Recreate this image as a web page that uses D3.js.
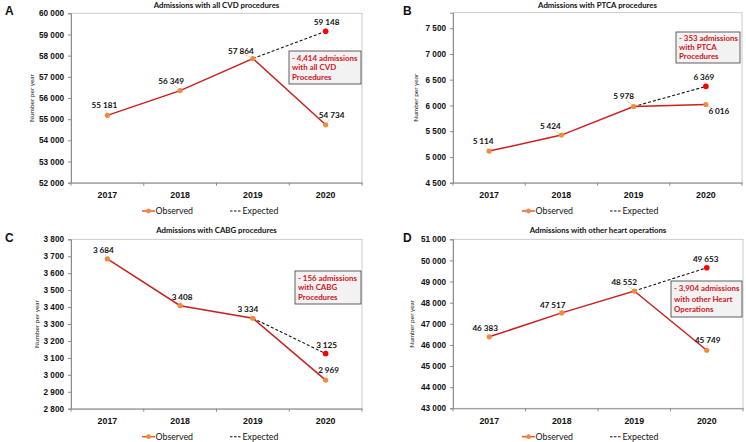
<!DOCTYPE html>
<html>
<head>
<meta charset="utf-8">
<script src="https://cdn.jsdelivr.net/npm/d3@7"></script>
<style>
  html, body { margin: 0; padding: 0; background: #fff; }
  svg { display: block; font-family: Lato, "Open Sans", sans-serif; }
  .tick-label { font-size: 8.2px; font-weight: 700; fill: #111; }
  .cat-label { font-size: 8.8px; font-weight: 700; fill: #111; }
  .value-label { font-size: 8.2px; font-weight: 700; fill: #111; }
  .title { font-size: 7.8px; font-weight: 700; fill: #111; }
  .y-title { font-size: 6.5px; fill: #111; }
  .legend-text { font-size: 8.8px; fill: #111; }
  .note-text { font-size: 7.9px; font-weight: 700; fill: #d0161b; }
  .letter { font-family: "Liberation Sans", Arial, sans-serif; font-size: 12px; font-weight: 700; fill: #111; }
</style>
</head>
<body>
<svg id="chart" width="746" height="442"></svg>
<script>
// values
const years = ['2017', '2018', '2019', '2020'];

const observedCVD = [55181, 56349, 57864, 54734];
const expectedCVD = [57864, 59148];          // 2019 -> 2020
const ticksCVD = [52000, 53000, 54000, 55000, 56000, 57000, 58000, 59000, 60000];
const noteCVD = ['- 4,414 admissions', 'with all CVD', 'Procedures'];

const observedPTCA = [5114, 5424, 5978, 6016];
const expectedPTCA = [5978, 6369];
const ticksPTCA = [4500, 5000, 5500, 6000, 6500, 7000, 7500];
const notePTCA = ['- 353 admissions', 'with PTCA', 'Procedures'];

const observedCABG = [3684, 3408, 3334, 2969];
const expectedCABG = [3334, 3125];
const ticksCABG = [2800, 2900, 3000, 3100, 3200, 3300, 3400, 3500, 3600, 3700, 3800];
const noteCABG = ['- 156 admissions', 'with CABG', 'Procedures'];

const observedOther = [46383, 47517, 48552, 45749];
const expectedOther = [48552, 49653];
const ticksOther = [43000, 44000, 45000, 46000, 47000, 48000, 49000, 50000, 51000];
const noteOther = ['- 3,904 admissions', 'with other Heart', 'Operations'];

const titles = [
    'Admissions with all CVD procedures',
    'Admissions with PTCA procedures',
    'Admissions with CABG procedures',
    'Admissions with other heart operations'
];
const letters = ['A', 'B', 'C', 'D'];
const legendLabels = ['Observed', 'Expected'];

/*
    Layout of the four panels (pixel boxes, label nudges)
*/
const panels = [
    {
        letter: letters[0], title: titles[0], observed: observedCVD, expected: expectedCVD,
        ticks: ticksCVD, domain: [52000, 60000], note: noteCVD,
        box: {left: 71, right: 362, top: 13.3, bottom: 182.7},
        letterPos: [5, 11], titleY: 5, yTitleX: 32, catY: 194, legendY: 211,
        legendX: [142, 230],
        obsOffsets: [[-3, -10], [-9, -9], [-12, -7], [6, -10]], expOffset: [1, -9],
        noteBox: {x: 289, y: 51, w: 72, h: 33}
    },
    {
        letter: letters[1], title: titles[1], observed: observedPTCA, expected: expectedPTCA,
        ticks: ticksPTCA, domain: [4500, 7800], note: notePTCA,
        box: {left: 453, right: 742, top: 12.7, bottom: 182.7},
        letterPos: [403, 11], titleY: 5, yTitleX: 416, catY: 194, legendY: 211,
        legendX: [522, 610],
        obsOffsets: [[-6, -10], [-11, -8.5], [-10, -10], [13, 7]], expOffset: [-2, -9],
        noteBox: {x: 676, y: 32, w: 64, h: 31}
    },
    {
        letter: letters[2], title: titles[2], observed: observedCABG, expected: expectedCABG,
        ticks: ticksCABG, domain: [2800, 3800], note: noteCABG,
        box: {left: 71, right: 362, top: 239.3, bottom: 408.7},
        letterPos: [5, 238], titleY: 230.3, yTitleX: 37, catY: 421, legendY: 436.7,
        legendX: [142, 230],
        obsOffsets: [[-4, -8.5], [2, -9], [-5, -9], [3, -10]], expOffset: [1, -9],
        noteBox: {x: 295, y: 271, w: 66, h: 33}
    },
    {
        letter: letters[3], title: titles[3], observed: observedOther, expected: expectedOther,
        ticks: ticksOther, domain: [43000, 51000], note: noteOther,
        box: {left: 453, right: 743, top: 239.3, bottom: 408.3},
        letterPos: [403, 238], titleY: 230, yTitleX: 412, catY: 420, legendY: 436.7,
        legendX: [522, 610],
        obsOffsets: [[-4, -9], [-9, -8], [-10, -9], [1, -10]], expOffset: [-1, -9],
        noteBox: {x: 671, y: 281, w: 71, h: 36}
    }
];

const COLORS = {
    line: '#cc1f1f',
    marker: '#f28a3c',
    expected: '#ff0000',
    axis: '#8c8c8c',
    frame: '#bfbfbf',
    leader: '#bdbdbd'
};

const fmt = d3.formatLocale({decimal: '.', thousands: ' ', grouping: [3], currency: ['', '']}).format(',');

const svg = d3.select('#chart');

panels.forEach(drawPanel);

function drawPanel(p) {
    const g = svg.append('g').attr('class', 'panel');
    const b = p.box;

    const x = d3.scaleBand().domain(years).range([b.left, b.right]).padding(0);
    const y = d3.scaleLinear().domain(p.domain).range([b.bottom, b.top]);
    const cx = d => x(d) + x.bandwidth() / 2;

    // plot frame
    g.append('rect')
        .attr('x', b.left).attr('y', b.top)
        .attr('width', b.right - b.left).attr('height', b.bottom - b.top)
        .attr('fill', 'none').attr('stroke', COLORS.frame).attr('stroke-width', 0.8);

    // y axis
    const yAxis = d3.axisLeft(y).tickValues(p.ticks).tickSize(3).tickPadding(4).tickFormat(fmt);
    const yG = g.append('g').attr('transform', `translate(${b.left},0)`).call(yAxis);
    yG.select('.domain').attr('stroke', COLORS.axis);
    yG.selectAll('.tick line').attr('stroke', COLORS.axis);
    yG.selectAll('.tick text').attr('class', 'tick-label').attr('font-size', null).attr('font-family', null);

    // x axis: ticks sit between categories
    const xAxis = d3.axisBottom(x).tickSize(0).tickPadding(9);
    const xG = g.append('g').attr('transform', `translate(0,${b.bottom})`).call(xAxis);
    xG.select('.domain').attr('stroke', COLORS.axis);
    xG.selectAll('.tick text').attr('class', 'cat-label').attr('font-size', null).attr('font-family', null);
    xG.selectAll('.sep')
        .data(years.concat(['end']))
        .enter()
        .append('line')
        .attr('class', 'sep')
        .attr('x1', (d, i) => i < years.length ? x(d) : b.right)
        .attr('x2', (d, i) => i < years.length ? x(d) : b.right)
        .attr('y1', 0).attr('y2', 3)
        .attr('stroke', COLORS.axis);

    // titles
    g.append('text').attr('class', 'title')
        .attr('x', (b.left + b.right) / 2).attr('y', p.titleY).attr('dy', '0.35em')
        .attr('text-anchor', 'middle').text(p.title);
    g.append('text').attr('class', 'letter')
        .attr('x', p.letterPos[0]).attr('y', p.letterPos[1]).attr('dy', '0.35em')
        .text(p.letter);
    g.append('text').attr('class', 'y-title')
        .attr('transform', `translate(${p.yTitleX},${(b.top + b.bottom) / 2}) rotate(-90)`)
        .attr('text-anchor', 'middle').attr('dy', '0.35em')
        .text('Number per year');

    // expected dashed line
    const expYears = years.slice(2);
    const line = d3.line().x(d => cx(d[0])).y(d => y(d[1]));
    g.append('path')
        .attr('d', line(expYears.map((yr, i) => [yr, p.expected[i]])))
        .attr('fill', 'none').attr('stroke', '#111')
        .attr('stroke-width', 1.1).attr('stroke-dasharray', '3,2');

    // observed line
    g.append('path')
        .attr('d', line(years.map((yr, i) => [yr, p.observed[i]])))
        .attr('fill', 'none').attr('stroke', COLORS.line).attr('stroke-width', 1.5);

    // leader lines + labels
    const labels = years.map((yr, i) => ({
        px: cx(yr), py: y(p.observed[i]), v: p.observed[i], off: p.obsOffsets[i]
    }));
    labels.push({px: cx(years[3]), py: y(p.expected[1]), v: p.expected[1], off: p.expOffset});

    labels.forEach(d => {
        const lx = d.px + d.off[0], ly = d.py + d.off[1];
        const dx = d.px - lx, dy = d.py - ly;
        const dist = Math.hypot(dx, dy);
        if (dist > 8) {
            const t0 = 4 / dist;
            g.append('line')
                .attr('x1', lx + dx * t0).attr('y1', ly + dy * t0 + 1)
                .attr('x2', d.px - dx * 2.5 / dist).attr('y2', d.py - dy * 2.5 / dist)
                .attr('stroke', COLORS.leader).attr('stroke-width', 0.6);
        }
        g.append('text').attr('class', 'value-label')
            .attr('x', lx).attr('y', ly).attr('dy', '0.35em')
            .attr('text-anchor', 'middle').text(fmt(d.v));
    });

    // markers
    g.selectAll('.obs-pt')
        .data(p.observed)
        .enter()
        .append('circle')
        .attr('class', 'obs-pt')
        .attr('cx', (d, i) => cx(years[i])).attr('cy', d => y(d))
        .attr('r', 2.6).attr('fill', COLORS.marker);
    g.append('circle')
        .attr('cx', cx(years[3])).attr('cy', y(p.expected[1]))
        .attr('r', 2.8).attr('fill', COLORS.expected);

    // annotation box
    const nb = p.noteBox;
    g.append('rect')
        .attr('x', nb.x).attr('y', nb.y).attr('width', nb.w).attr('height', nb.h)
        .attr('fill', '#f2f2f2').attr('stroke', '#3a3a3a').attr('stroke-width', 0.8);
    const lineGap = (nb.h - 4) / p.note.length;
    g.selectAll('.note-text')
        .data(p.note)
        .enter()
        .append('text')
        .attr('class', 'note-text')
        .attr('x', nb.x + 3)
        .attr('y', (d, i) => nb.y + 2 + lineGap * (i + 0.5))
        .attr('dy', '0.35em')
        .text(d => d);

    // legend
    const ly = p.legendY;
    const [lx1, lx2] = p.legendX;
    g.append('line')
        .attr('x1', lx1).attr('x2', lx1 + 13).attr('y1', ly).attr('y2', ly)
        .attr('stroke', '#e05a35').attr('stroke-width', 1.5);
    g.append('circle').attr('cx', lx1 + 6.5).attr('cy', ly).attr('r', 2.4).attr('fill', COLORS.marker);
    g.append('text').attr('class', 'legend-text')
        .attr('x', lx1 + 13.5).attr('y', ly).attr('dy', '0.35em').text(legendLabels[0]);
    g.append('line')
        .attr('x1', lx2).attr('x2', lx2 + 12).attr('y1', ly).attr('y2', ly)
        .attr('stroke', '#111').attr('stroke-width', 1.1).attr('stroke-dasharray', '2.5,1.5');
    g.append('text').attr('class', 'legend-text')
        .attr('x', lx2 + 12.5).attr('y', ly).attr('dy', '0.35em').text(legendLabels[1]);
}
</script>
</body>
</html>
